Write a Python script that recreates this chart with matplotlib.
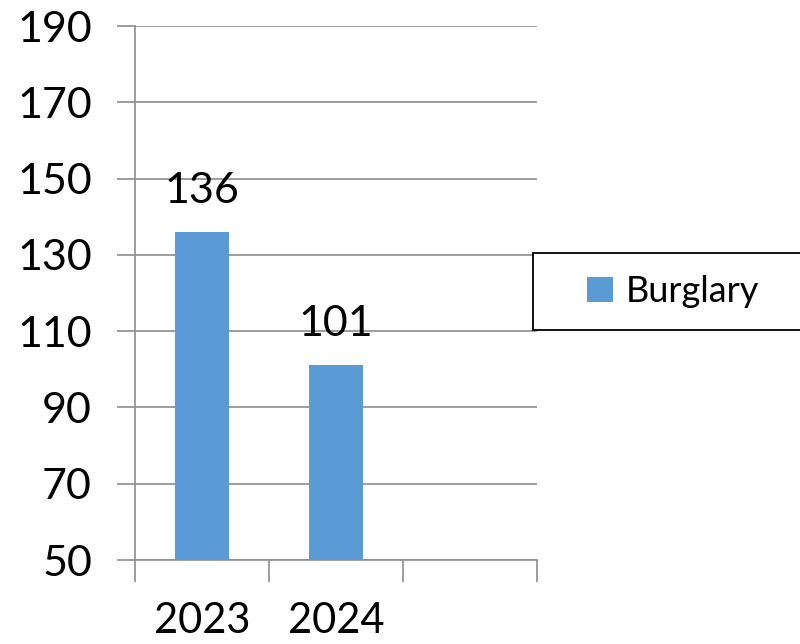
import matplotlib
matplotlib.use("Agg")
import matplotlib.pyplot as plt
from matplotlib.patches import Rectangle

categories = ["2023", "2024", ""]
values = [136, 101, None]
series_name = "Burglary"
yticks = [50, 70, 90, 110, 130, 150, 170, 190]

plt.rcParams['font.family'] = ['Lato', 'DejaVu Sans']

fig = plt.figure(figsize=(8, 6.44), dpi=100)
ax = fig.add_axes([135/800, 1-560/644, 402/800, 534/644])

xs = list(range(len(categories)))
vals = [v if v is not None else 0 for v in values]
bars = ax.bar(xs[:2], vals[:2], width=0.40, color="#5b9bd5", zorder=3, label=series_name)
ax.bar_label(bars, labels=[str(v) for v in values[:2]], padding=16, fontsize=31, color="black", zorder=4)

ax.set_ylim(50, 190)
ax.set_xlim(-0.5, 2.5)
ax.set_yticks(yticks)
ax.set_yticklabels([str(t) for t in yticks], fontsize=31)
ax.yaxis.grid(True, color="#8c8c8c", linewidth=1.2, zorder=0)
ax.tick_params(axis="y", length=13, width=1.2, color="#8c8c8c", pad=18, direction="out")

ax.set_xticks([-0.5, 0.5, 1.5, 2.5])
ax.set_xticklabels([])
ax.set_xticks(xs, minor=True)
ax.set_xticklabels(categories, minor=True, fontsize=30)
ax.tick_params(axis="x", which="major", length=16, width=1.2, color="#8c8c8c", direction="out")
ax.tick_params(axis="x", which="minor", length=0, pad=30)

for s in ["top", "right"]:
    ax.spines[s].set_visible(False)
for s in ["left", "bottom"]:
    ax.spines[s].set_color("#8c8c8c")
    ax.spines[s].set_linewidth(1.2)
ax.spines["bottom"].set_zorder(5)

# legend frame
fig.patches.append(Rectangle((533/800, 1-330/644), 300/800, 77/644, transform=fig.transFigure,
                             facecolor="white", edgecolor="black", linewidth=1.3, zorder=10))
leg = fig.legend(handles=[bars], labels=[series_name], loc="center left",
                 bbox_to_anchor=(587/800, 1-291.5/644), frameon=False, fontsize=26,
                 handlelength=0.72, handleheight=0.72, handletextpad=0.36,
                 borderpad=0, borderaxespad=0)
leg.set_zorder(11)

fig.savefig("out.png", dpi=100)
